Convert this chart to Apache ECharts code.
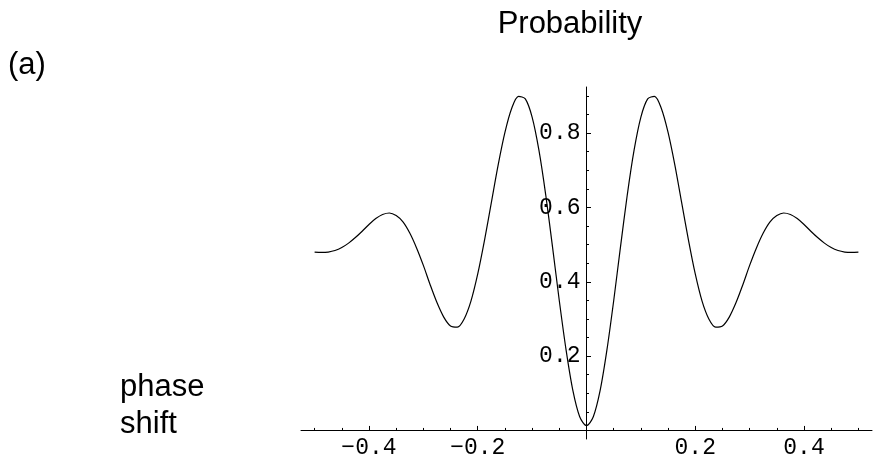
<!DOCTYPE html>
<html>
<head>
<meta charset="utf-8">
<script src="https://cdn.jsdelivr.net/npm/echarts@6/dist/echarts.min.js"></script>
<style>
html,body{margin:0;padding:0;background:#fff;}
#chart{width:874px;height:465px;}
</style>
</head>
<body>
<div id="chart"></div>
<script>
// phase shift values (x)
var phaseShift = [
  -0.5, -0.4875, -0.475, -0.4625, -0.45, -0.4375, -0.425, -0.4125, -0.4, -0.3875,
  -0.375, -0.3625, -0.35, -0.3375, -0.325, -0.3125, -0.3, -0.2875, -0.275, -0.2625,
  -0.25, -0.2375, -0.225, -0.2125, -0.2, -0.1875, -0.175, -0.1625, -0.15, -0.1375,
  -0.125, -0.1125, -0.1, -0.0875, -0.075, -0.0625, -0.05, -0.0375, -0.025, -0.0125,
  0,
  0.0125, 0.025, 0.0375, 0.05, 0.0625, 0.075, 0.0875, 0.1, 0.1125, 0.125,
  0.1375, 0.15, 0.1625, 0.175, 0.1875, 0.2, 0.2125, 0.225, 0.2375, 0.25,
  0.2625, 0.275, 0.2875, 0.3, 0.3125, 0.325, 0.3375, 0.35, 0.3625, 0.375,
  0.3875, 0.4, 0.4125, 0.425, 0.4375, 0.45, 0.4625, 0.475, 0.4875, 0.5
];
// probability values
var probability = [
  0.480, 0.479, 0.480, 0.484, 0.492, 0.504, 0.519, 0.536, 0.554, 0.570,
  0.581, 0.585, 0.578, 0.561, 0.531, 0.491, 0.444, 0.392, 0.344, 0.305,
  0.281, 0.278, 0.300, 0.348, 0.421, 0.512, 0.613, 0.714, 0.802, 0.867,
  0.899, 0.892, 0.843, 0.754, 0.634, 0.494, 0.349, 0.216, 0.107, 0.037,
  0.013,
  0.037, 0.107, 0.216, 0.349, 0.494, 0.634, 0.754, 0.843, 0.892, 0.899,
  0.867, 0.802, 0.714, 0.613, 0.512, 0.421, 0.348, 0.300, 0.278, 0.281,
  0.305, 0.344, 0.392, 0.444, 0.491, 0.531, 0.561, 0.578, 0.585, 0.581,
  0.570, 0.554, 0.536, 0.519, 0.504, 0.492, 0.484, 0.480, 0.479, 0.480
];
// tick labels
var xMajorTicks = [-0.4, -0.2, 0.2, 0.4];
var xMinorTicks = [-0.5, -0.45, -0.35, -0.3, -0.25, -0.15, -0.1, -0.05, 0.05, 0.1, 0.15, 0.25, 0.3, 0.35, 0.45, 0.5];
var yMajorTicks = [0.2, 0.4, 0.6, 0.8];
var yMinorTicks = [0.05, 0.1, 0.15, 0.25, 0.3, 0.35, 0.45, 0.5, 0.55, 0.65, 0.7, 0.75, 0.85, 0.9];

var titleText = 'Probability';
var panelText = '(a)';
var xNameLines = ['phase', 'shift'];

var seriesData = phaseShift.map(function (x, i) { return [x, probability[i]]; });

var monoFont = 'Liberation Mono';
var sansFont = 'Liberation Sans';
var axisLineStyle = { color: '#000', width: 1 };

// grid geometry: x range [-0.525, 0.525] over 571 px, y range [-0.023, 0.924] over 352 px
var gridLeft = 301, gridTop = 87, gridW = 571, gridH = 352;
var xMin = -0.525, xMax = 0.525, yMin = -0.023, yMax = 0.924;
var yAxisShift = -gridW * (0 - xMin) / (xMax - xMin);   // moves the y axis to x = 0
var xAxisShift = -gridH * (0 - yMin) / (yMax - yMin);   // moves the x axis to y = 0

function fmtX(v) { return (v < 0 ? '\u2212' : '') + Math.abs(v).toFixed(1); }

var chart = echarts.init(document.getElementById('chart'), null, { renderer: 'canvas' });
chart.setOption({
  animation: false,
  backgroundColor: '#fff',
  grid: { left: gridLeft, top: gridTop, width: gridW, height: gridH, containLabel: false },
  xAxis: [
    {
      type: 'value', min: xMin, max: xMax, position: 'bottom', offset: xAxisShift,
      axisLine: { show: true, onZero: false, lineStyle: axisLineStyle },
      axisTick: { show: true, inside: true, length: 4.5, customValues: xMajorTicks, lineStyle: axisLineStyle },
      axisLabel: { show: true, customValues: xMajorTicks, formatter: fmtX, margin: 6,
        fontFamily: monoFont, fontSize: 23, color: '#000' },
      splitLine: { show: false }
    },
    {
      type: 'value', min: xMin, max: xMax, position: 'bottom', offset: xAxisShift,
      axisLine: { show: false, onZero: false },
      axisTick: { show: true, inside: true, length: 2.5, customValues: xMinorTicks, lineStyle: axisLineStyle },
      axisLabel: { show: false },
      splitLine: { show: false }
    }
  ],
  yAxis: [
    {
      type: 'value', min: yMin, max: yMax, position: 'left', offset: yAxisShift,
      axisLine: { show: true, onZero: false, lineStyle: axisLineStyle },
      axisTick: { show: true, inside: true, length: 4.5, customValues: yMajorTicks, lineStyle: axisLineStyle },
      axisLabel: { show: true, customValues: yMajorTicks, formatter: function (v) { return v.toFixed(1); },
        margin: 6, fontFamily: monoFont, fontSize: 23, color: '#000' },
      splitLine: { show: false }
    },
    {
      type: 'value', min: yMin, max: yMax, position: 'left', offset: yAxisShift,
      axisLine: { show: false, onZero: false },
      axisTick: { show: true, inside: true, length: 2.5, customValues: yMinorTicks, lineStyle: axisLineStyle },
      axisLabel: { show: false },
      splitLine: { show: false }
    }
  ],
  series: [{
    type: 'line', xAxisIndex: 0, yAxisIndex: 0,
    data: seriesData, showSymbol: false, smooth: 0.3,
    lineStyle: { color: '#000', width: 1.2 },
    z: 3
  }],
  graphic: [
    { type: 'text', x: 570, y: 24, style: { text: titleText, fill: '#000',
      font: '31px "' + sansFont + '", Arial, sans-serif', textAlign: 'center', textVerticalAlign: 'middle' } },
    { type: 'text', x: 8, y: 65, style: { text: panelText, fill: '#000',
      font: '31px "' + sansFont + '", Arial, sans-serif', textAlign: 'left', textVerticalAlign: 'middle' } },
    { type: 'text', x: 120, y: 387, style: { text: xNameLines[0], fill: '#000',
      font: '31px "' + sansFont + '", Arial, sans-serif', textAlign: 'left', textVerticalAlign: 'middle' } },
    { type: 'text', x: 120, y: 424, style: { text: xNameLines[1], fill: '#000',
      font: '31px "' + sansFont + '", Arial, sans-serif', textAlign: 'left', textVerticalAlign: 'middle' } }
  ]
});
</script>
</body>
</html>
